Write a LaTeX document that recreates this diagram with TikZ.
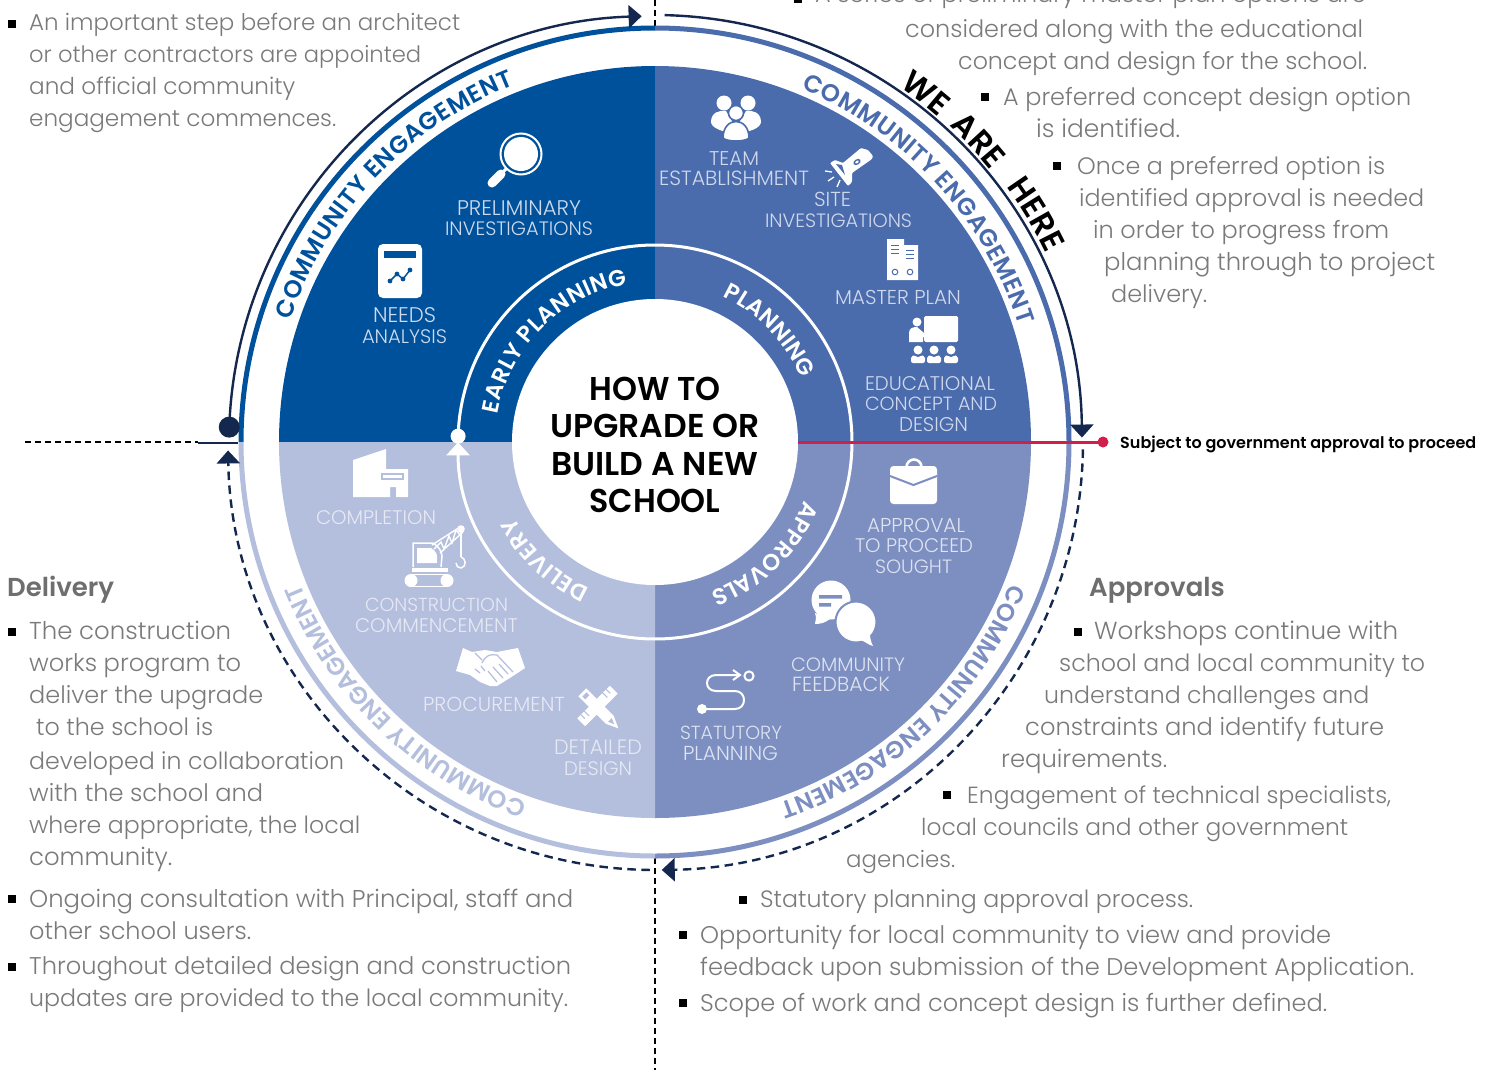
\documentclass[tikz,border=0pt]{standalone}
\usepackage{fontspec}
\usepackage{graphicx}
\setmainfont{Poppins}
\newfontfamily\lightf{Poppins Light}
\newfontfamily\medf{Poppins Medium}
\newfontfamily\boldf{Poppins SemiBold}
\usetikzlibrary{decorations.text,arrows.meta}
\definecolor{cE}{HTML}{00519B}
\definecolor{cP}{HTML}{4A6BAC}
\definecolor{cA}{HTML}{7D8FC1}
\definecolor{cD}{HTML}{B4BEDD}
\definecolor{navy}{HTML}{14274E}
\definecolor{redl}{HTML}{D21E4B}
\definecolor{greyt}{HTML}{7A7A7A}
\definecolor{greyh}{HTML}{6E6E6E}
\definecolor{lE}{HTML}{CFDAEC}
\definecolor{lP}{HTML}{D0D8EC}
\definecolor{lA}{HTML}{DDE3F1}
\definecolor{lD}{HTML}{E6E9F4}
\tikzset{
  bodytxt/.style={anchor=base west,inner sep=0pt,text=greyt,font=\lightf\fontsize{24}{28}\selectfont},
  headtxt/.style={anchor=base west,inner sep=0pt,text=greyh,font=\boldf\fontsize{26}{30}\selectfont},
  lbltxt/.style={anchor=base,inner sep=0pt,font=\lightf\fontsize{19}{20}\selectfont},
  bulletbox/.style={fill=black,minimum size=8pt,inner sep=0pt,rectangle},
  guide/.style={line width=1.2pt,dash pattern=on 6pt off 4pt,black},
  loopsolid/.style={navy,line width=2.4pt},
  loopdash/.style={navy,line width=2.4pt,dash pattern=on 8.5pt off 5.5pt},
  bigtip/.style={-{Triangle[length=13pt,width=23pt]}},
}
% line of body text, scaled so that it ends at the given x
\newcommand{\tl}[5]{\node[bodytxt] (#1) at (#2,#3+8) {\resizebox{\dimexpr#4pt-#2pt\relax}{!}{#5}};}
\newcommand{\bul}[3]{\node[bulletbox] (#1) at (#2,#3) {};}
% sector label, scaled to the given width
\newcommand{\lb}[6]{\node[lbltxt,text=#1] (#2) at (#3,#4+6.5) {\resizebox{#5pt}{!}{#6}};}
\newcommand{\curved}[7][\boldf]{\path[decorate,decoration={text along path,text align={fit to path},
  text={|#1\fontsize{#5}{#5}\selectfont\color{#6}|#7}}] (#2:#4) arc[start angle=#2,end angle=#3,radius=#4];}
\newcommand{\curvedfree}[5]{\path[decorate,decoration={text along path,
  text={|\boldf\fontsize{#3}{#3}\selectfont\color{#4}|#5}}] (#1:#2) arc[start angle=#1,end angle=#1-18,radius=#2];}
\begin{document}
\begin{tikzpicture}[x=1pt,y=-1pt]
\clip (0,0) rectangle (1491,1074);
\fill[white] (0,0) rectangle (1491,1074);
% guides
\draw[guide] (655,0) -- (655,28);
\draw[guide] (655,858) -- (655,1070);
\draw[guide] (25,442) -- (198,442);
\draw[navy,line width=2pt] (198,443) -- (238,443);
\begin{scope}[shift={(655,442)},y=1pt]
  % sectors
  \fill[cE] (0,0) -- (180:376) arc[start angle=180,end angle=90,radius=376] -- cycle;
  \fill[cP] (0,0) -- (90:376) arc[start angle=90,end angle=0,radius=376] -- cycle;
  \fill[cA] (0,0) -- (0:376) arc[start angle=0,end angle=-90,radius=376] -- cycle;
  \fill[cD] (0,0) -- (-90:376) arc[start angle=-90,end angle=-180,radius=376] -- cycle;
  \fill[white] (0,0) circle[radius=143];
  % outer thin ring
  \draw[cE,line width=5pt] (180:414) arc[start angle=180,end angle=90,radius=414];
  \draw[cP,line width=5pt] (90:414) arc[start angle=90,end angle=0,radius=414];
  \draw[cA,line width=5pt] (0:414) arc[start angle=0,end angle=-90,radius=414];
  \draw[cD,line width=5pt] (-90:414) arc[start angle=-90,end angle=-180,radius=414];
  % process ring
  \draw[white,line width=3pt,bigtip] (178.3:197) arc[start angle=178.3,end angle=-179.9,radius=197];
  \fill[white] (178.3:197) circle[radius=7.5];
  % outer loop
  \draw[loopsolid,bigtip] (178:426) arc[start angle=178,end angle=91.8,radius=426];
  \draw[loopsolid,bigtip] (88.7:427) arc[start angle=88.7,end angle=0.6,radius=427];
  \draw[loopdash,bigtip] (-1:428) arc[start angle=-1,end angle=-89.1,radius=428];
  \draw[loopdash,bigtip] (-90.7:428) arc[start angle=-90.7,end angle=-179,radius=427];
  \fill[navy] (178:426) circle[radius=10.5];
  % curved captions
  \curved{161.5}{111.5}{384}{24.4}{cE}{COMMUNITY ENGAGEMENT}
  \curved{67.5}{17.8}{382}{24.4}{cP}{COMMUNITY ENGAGEMENT}
  \curved{-21.7}{-71}{382}{24.4}{cA}{COMMUNITY ENGAGEMENT}
  \curved{-109.5}{-158}{382}{24.4}{cD}{COMMUNITY ENGAGEMENT}
  \curved{170}{100}{160}{23}{white}{EARLY PLANNING}
  \curved{65}{24}{160}{23}{white}{PLANNING}
  \curved{-21.5}{-69}{160}{23}{white}{APPROVALS}
  \curved{-114}{-152}{160}{23}{white}{DELIVERY}
  \curvedfree{55.5}{431}{32}{black}{WE}
  \curvedfree{47}{432}{32}{black}{ARE}
  \curvedfree{36}{434}{32}{black}{HERE}
\end{scope}
% red line
\draw[redl,line width=3pt] (798,442) -- (1103,442);
\fill[redl] (1103,442) circle[radius=5.5];
\node[anchor=base west,inner sep=0pt,font=\boldf\fontsize{16}{18}\selectfont] (subj) at (1120,448) {Subject to government approval to proceed};
% title
\node[inner sep=0pt,font=\boldf\fontsize{33}{37.5}\selectfont,align=center,anchor=center] (title) at (655,445) {\resizebox{131pt}{\height}{HOW TO}\\UPGRADE OR\\BUILD A NEW\\\resizebox{131pt}{\height}{SCHOOL}};
% sector labels
\lb{lE}{prel}{519}{209}{124}{PRELIMINARY}
\lb{lE}{inv}{519}{229}{148}{INVESTIGATIONS}
\lb{lE}{needs}{404.5}{316}{63}{NEEDS}
\lb{lE}{anal}{404.5}{337}{85}{ANALYSIS}
\lb{lP}{team}{734}{159}{50}{TEAM}
\lb{lP}{estab}{734}{179}{150}{ESTABLISHMENT}
\lb{lP}{site}{832.5}{200}{37}{SITE}
\lb{lP}{sinv}{838.5}{221}{147}{INVESTIGATIONS}
\lb{lP}{mplan}{898}{298}{126}{MASTER PLAN}
\lb{lP}{educ}{930}{384}{130}{EDUCATIONAL}
\lb{lP}{conc}{931}{404}{132}{CONCEPT AND}
\lb{lP}{edes}{933.5}{425}{69}{DESIGN}
\lb{lA}{appr}{916}{526}{98}{APPROVAL}
\lb{lA}{topr}{914}{546}{118}{TO PROCEED}
\lb{lA}{soug}{913.5}{567}{77}{SOUGHT}
\lb{lA}{comm}{848}{665}{114}{COMMUNITY}
\lb{lA}{feed}{841}{685}{98}{FEEDBACK}
\lb{lA}{stat}{731}{733}{102}{STATUTORY}
\lb{lA}{plan}{730.5}{754}{95}{PLANNING}
\lb{lD}{deta}{598}{748}{88}{DETAILED}
\lb{lD}{ddes}{598}{769}{68}{DESIGN}
\lb{lD}{proc}{494}{705}{142}{PROCUREMENT}
\lb{lD}{cons}{436.5}{605}{143}{CONSTRUCTION}
\lb{lD}{comc}{436.5}{626}{163}{COMMENCEMENT}
\lb{lD}{compl}{376}{518}{120}{COMPLETION}
% --- icons ---
% magnifier
\draw[white,line width=2pt] (521,154) circle[radius=20.5];
\fill[white] (521,154) circle[radius=17];
\draw[white,line width=3pt] (507,168) -- (500,175);
\draw[white,line width=9pt,line cap=round] (501,174) -- (492,183);
% needs analysis
\fill[white,rounded corners=5pt] (378,244) rectangle (422,298);
\fill[cE] (384,251) rectangle (416,258);
\draw[cE,line width=1.5pt] (390,281) -- (397,274) -- (403,279) -- (410,270);
\foreach \p/\q in {390/281,397/274,403/279,410/270}{\fill[cE] (\p,\q) circle[radius=2.4];}
% team
\fill[white] (724,103) circle[radius=7.5] (748,103) circle[radius=7.5];
\fill[white] (711,122) .. controls (711,112) and (720,110) .. (726,111) -- (736,128) -- (746,111) .. controls (752,110) and (761,112) .. (761,122) .. controls (761,128) and (748,133) .. (736,133) .. controls (724,133) and (711,128) .. (711,122) -- cycle;
\filldraw[fill=white,draw=cP,line width=1.6pt] (736,113) circle[radius=7.5];
\filldraw[fill=white,draw=cP,line width=1.6pt] (723,138) .. controls (723,116) and (749,116) .. (749,138) .. controls (745,142) and (727,142) .. (723,138) -- cycle;
% flashlight
\fill[white,rounded corners=1pt] (830,163) -- (835,160) -- (843,163) -- (861,148) -- (868,150) -- (873,156) -- (872,159) -- (852,173) -- (852,182) -- (848,186) -- cycle;
\fill[cP] (836,164) -- (842,165) -- (845,175) -- cycle;
\begin{scope}[shift={(857,162)},rotate=33]
  \fill[cP] (0,0) ellipse[x radius=4,y radius=2.7];
  \fill[white] (0,0) ellipse[x radius=2,y radius=1.2];
\end{scope}
\draw[white,line width=1.3pt] (825,171) -- (832,172) (828,181) -- (834,177) (837,187) -- (840,180);
% master plan
\fill[white] (887,239) -- (904,239) -- (904,245) -- (918,245) -- (918,280) -- (887,280) -- cycle;
\draw[cP,line width=1pt] (891,245) -- (899,245) (891,249) -- (899,249) (891,253) -- (899,253) (906,250) -- (914,250) (906,254) -- (914,254) (906,258) -- (914,258);
\draw[cP,line width=1pt] (895,272) circle[radius=2.8] (910,272) circle[radius=2.8];
% teacher
\fill[white,rounded corners=1.5pt] (924,316) rectangle (958,342);
\fill[white] (917,322) circle[radius=4.5];
\draw[cP,line width=1pt] (920.5,342) -- (925,333);
\fill[white] (909,342) -- (909,333) .. controls (909,328) and (913,327) .. (917,327) -- (924,333) -- (932,333) -- (932,337) -- (923,337) -- (923,342) -- cycle;
\foreach \p in {918,934,951}{
  \fill[white] (\p,350) circle[radius=4.5];
  \fill[white,rounded corners=2pt] (\p-7,363) -- (\p-7,356) -- (\p-3,355) -- (\p,358) -- (\p+3,355) -- (\p+7,356) -- (\p+7,363) -- cycle;
}
% briefcase
\draw[white,line width=2.6pt] (906.5,467) arc[start angle=180,end angle=360,radius=7.5];
\fill[white,rounded corners=3.5pt] (890,466) rectangle (937,504);
\draw[cA,line width=2pt] (890,476) -- (913.5,485) -- (937,476);
% bubbles
\fill[white] (831,600) circle[radius=19.5];
\fill[white] (815,613) .. controls (817,618) and (815,622) .. (815,624) .. controls (820,624) and (825,623) .. (830,619) -- cycle;
\fill[cA] (819,595) rectangle (842,598.5) (819,603) rectangle (831,606.5);
\filldraw[fill=white,draw=cA,line width=2pt] (856,622) circle[radius=20.5];
\fill[white] (860,640) .. controls (865,641) and (868,645) .. (873,646) .. controls (871,642) and (870,638) .. (870,634) -- cycle;
% statutory route
\fill[white] (702,709) circle[radius=5];
\draw[white,line width=2pt] (702,709) -- (735,709) .. controls (747,709) and (747,691) .. (735,691) -- (716,691) .. controls (704,691) and (704,675) .. (716,675) -- (739,675);
\draw[white,line width=2pt] (733,670) -- (740,675) -- (733,680);
\draw[white,line width=2pt] (749,676) circle[radius=4.6];
% completion
\fill[white] (353,460) -- (386,449) -- (386,469) -- (408,469) -- (408,497) -- (396,497) -- (396,487) -- (390,487) -- (390,497) -- (353,497) -- cycle;
\filldraw[fill=white,draw=cD,line width=1.4pt] (382,474) rectangle (403,479);
% crane
\fill[white] (411,580.5) circle[radius=6.5] (447,580.5) circle[radius=6.5];
\draw[white,line width=1.5pt] (411,574.5) -- (447,574.5) (411,586.5) -- (447,586.5);
\fill[white] (412,568) rectangle (448,572);
\draw[white,line width=1.5pt] (413,567) -- (413,543) -- (433,543) .. controls (438,546) and (442,551) .. (442,556) -- (441,567);
\fill[white] (417,548) -- (431,548) .. controls (434,550) and (437,553) .. (437,556) -- (437,563) -- (417,563) -- cycle;
\draw[white,line width=1.4pt] (432,545) -- (460,527) (440,553) -- (463,532) (434,549) -- (441,542) -- (444,549) -- (449,536) -- (452,543) -- (456,530) -- (460,535);
\fill[white] (461,529) circle[radius=3.8];
\draw[white,line width=1.3pt] (461,530) -- (461,557);
\draw[white,line width=1.5pt] (461,557) .. controls (466,558) and (467,567) .. (461,568) .. controls (458,568) and (456,566) .. (456,563);
% handshake
\fill[white] (456,671) -- (463,648) -- (472,652) -- (485,650) -- (497,652) -- (518,648) -- (525,668) -- (513,676) -- (497,686) -- (490,686) -- (480,682) -- (470,675) -- cycle;
\draw[cD,line width=1.2pt] (475,653) -- (482,660) (482,663) .. controls (486,655) and (490,654) .. (497,655) -- (513,672);
\draw[cD,line width=1.2pt] (493,667) -- (503,678) (488,671) -- (497,682) (499,664) -- (508,674) (475,669) -- (480,673) (481,666) -- (485,671);
% ruler + pencil
\begin{scope}[shift={(597.5,706)},rotate=45]
  \fill[white] (-23,-5.5) rectangle (23,5.5);
  \draw[cD,line width=1.1pt] (-18,-5.5) -- (-18,0) (-13,-5.5) -- (-13,1) (13,-5.5) -- (13,1) (18,-5.5) -- (18,0);
\end{scope}
\begin{scope}[shift={(600,710)},rotate=-45]
  \fill[white] (-25,-5.5) -- (14,-5.5) -- (26,0) -- (14,5.5) -- (-25,5.5) -- cycle;
  \fill[cD] (-22,-3) rectangle (-18,3);
  \fill[cD] (14,-2.6) -- (20,0) -- (14,2.6) -- cycle;
\end{scope}
% --- side text ---
\bul{b1}{12}{24}
\tl{t1}{29}{22}{460}{An important step before an architect}
\tl{t2}{29}{54}{421}{or other contractors are appointed}
\tl{t3}{29}{86}{295}{and official community}
\tl{t4}{29}{118}{336}{engagement commences.}
\bul{b2}{798}{-1}
\tl{r0}{815}{-6}{1366}{A series of preliminary master plan options are}
\tl{r1}{905}{29}{1363}{considered along with the educational}
\tl{r2}{958}{61}{1367}{concept and design for the school.}
\bul{b3}{985}{97}
\tl{r3}{1003}{97}{1411}{A preferred concept design option}
\tl{r4}{1036}{129}{1180}{is identified.}
\bul{b4}{1057}{166}
\tl{r5}{1077}{166}{1385}{Once a preferred option is}
\tl{r6}{1079}{198}{1424}{identified approval is needed}
\tl{r7}{1093}{230}{1389}{in order to progress from}
\tl{r8}{1104}{262}{1435}{planning through to project}
\tl{r9}{1111}{294}{1207}{delivery.}
\node[headtxt] (hdel) at (7,596) {Delivery};
\bul{b5}{12}{632}
\tl{d1}{29}{631}{231}{The construction}
\tl{d2}{29}{663}{241}{works program to}
\tl{d3}{29}{695}{263}{deliver the upgrade}
\tl{d4}{36}{727}{213}{to the school is}
\tl{d5}{29}{761}{344}{developed in collaboration}
\tl{d6}{29}{793}{263}{with the school and}
\tl{d7}{29}{825}{360}{where appropriate, the local}
\tl{d8}{29}{857}{172}{community.}
\bul{b6}{12}{899}
\tl{d9}{29}{899}{573}{Ongoing consultation with Principal, staff and}
\tl{d10}{29}{931}{251}{other school users.}
\bul{b7}{12}{967}
\tl{d11}{29}{966}{571}{Throughout detailed design and construction}
\tl{d12}{29}{998}{568}{updates are provided to the local community.}
\node[headtxt] (happ) at (1089,596) {Approvals};
\bul{b8}{1078}{632}
\tl{a1}{1094}{631}{1398}{Workshops continue with}
\tl{a2}{1059}{663}{1425}{school and local community to}
\tl{a3}{1044}{695}{1369}{understand challenges and}
\tl{a4}{1025}{727}{1384}{constraints and identify future}
\tl{a5}{1001}{759}{1167}{requirements.}
\bul{b9}{947}{795}
\tl{a6}{967}{795}{1391}{Engagement of technical specialists,}
\tl{a7}{921}{827}{1348}{local councils and other government}
\tl{a8}{846}{859}{955}{agencies.}
\bul{b10}{743}{900}
\tl{a9}{760}{899}{1193}{Statutory planning approval process.}
\bul{b11}{683}{935}
\tl{a10}{700}{935}{1331}{Opportunity for local community to view and provide}
\tl{a11}{700}{967}{1414}{feedback upon submission of the Development Application.}
\bul{b12}{683}{1003}
\tl{a12}{700}{1003}{1327}{Scope of work and concept design is further defined.}
\end{tikzpicture}
\end{document}
